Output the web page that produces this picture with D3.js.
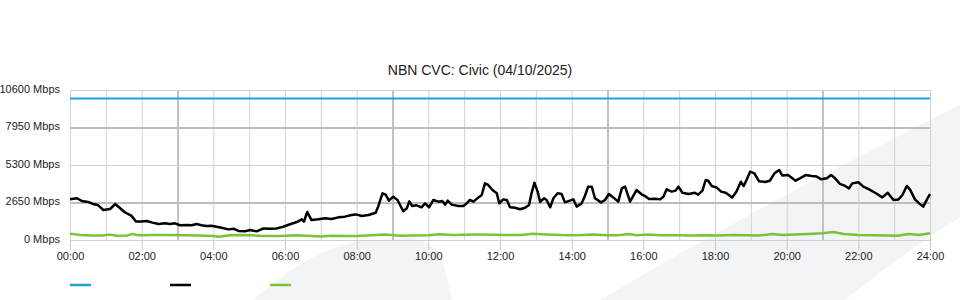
<!DOCTYPE html>
<html>
<head>
<meta charset="utf-8">
<script src="https://cdn.jsdelivr.net/npm/d3@7"></script>
<style>
body { margin: 0; background: #fff; }
text { font-family: "Liberation Sans", Arial, sans-serif; }
</style>
</head>
<body>
<svg id="chart" width="960" height="300"></svg>
<script>
// chart values
const title = "NBN CVC: Civic (04/10/2025)";
const yTicks = [0, 2650, 5300, 7950, 10600];
const xLabelHours = [0, 2, 4, 6, 8, 10, 12, 14, 16, 18, 20, 22, 24];
const gridHours = d3.range(0, 25);

// CVC capacity (flat)
const capacityHours = [0, 24];
const capacityValues = [10000, 10000];

// download traffic
const downHours = [0, 0.19, 0.33, 0.51, 0.65, 0.79, 0.93, 1.12, 1.26, 1.40, 1.53, 1.72, 1.84, 2.00, 2.14, 2.30, 2.47, 2.65, 2.79, 2.93,
	3.07, 3.26, 3.40, 3.53, 3.67, 3.81, 3.95, 4.09, 4.23, 4.42, 4.56, 4.70, 4.88, 5.02, 5.21, 5.40, 5.58, 5.77, 5.95,
	6.14, 6.33, 6.47, 6.53, 6.62, 6.74, 6.93, 7.12, 7.30, 7.49, 7.67, 7.86, 7.98, 8.14, 8.33, 8.53, 8.60, 8.72, 8.81, 8.90,
	9.02, 9.14, 9.30, 9.40, 9.47, 9.55, 9.67, 9.81, 9.91, 10.02, 10.14, 10.28, 10.39, 10.47, 10.54, 10.65, 10.84, 10.98,
	11.07, 11.16, 11.26, 11.40, 11.49, 11.58, 11.67, 11.79, 11.91, 11.98, 12.09, 12.19, 12.28, 12.42, 12.56, 12.70, 12.81,
	12.88, 12.96, 13.05, 13.12, 13.23, 13.30, 13.40, 13.49, 13.61, 13.72, 13.81, 13.95, 14.05, 14.14, 14.28, 14.37, 14.46,
	14.56, 14.65, 14.82, 14.93, 15.04, 15.16, 15.30, 15.40, 15.49, 15.63, 15.81, 15.95, 16.05, 16.16, 16.33, 16.47, 16.56,
	16.65, 16.79, 16.90, 16.98, 17.09, 17.26, 17.44, 17.53, 17.65, 17.74, 17.81, 17.91, 18.05, 18.17, 18.30, 18.48, 18.60,
	18.72, 18.80, 18.88, 18.98, 19.10, 19.23, 19.40, 19.53, 19.66, 19.79, 19.88, 20.04, 20.25, 20.37, 20.53, 20.70, 20.84,
	20.96, 21.12, 21.24, 21.35, 21.49, 21.63, 21.74, 21.83, 22.00, 22.14, 22.30, 22.47, 22.67, 22.82, 22.98, 23.12, 23.23,
	23.35, 23.44, 23.58, 23.72, 23.81, 23.91, 24.00];
const downValues = [2880, 2950, 2760, 2690, 2540, 2450, 2120, 2190, 2540, 2240, 1960, 1700, 1300, 1300, 1340, 1230, 1130, 1180, 1130, 1180,
	1040, 1060, 1040, 1130, 1040, 990, 1010, 940, 870, 750, 800, 640, 610, 710, 610, 820, 800, 820, 940,
	1110, 1270, 1460, 1300, 1980, 1410, 1460, 1530, 1480, 1600, 1650, 1770, 1810, 1700, 1770, 1930, 2360, 3300, 3200, 2780,
	3060, 2830, 2030, 2240, 2730, 2400, 2450, 2310, 2590, 2310, 2830, 2710, 2760, 2500, 2780, 2500, 2400, 2400,
	2590, 2830, 2710, 3010, 3180, 4000, 3890, 3530, 3300, 2590, 2870, 2830, 2310, 2280, 2170, 2280, 2470,
	3300, 4050, 3420, 2690, 2950, 2830, 2310, 2950, 3300, 3250, 2660, 2780, 2870, 2360, 2590, 3110, 3770,
	3770, 2950, 2660, 2830, 3250, 3010, 2710, 3650, 3770, 2710, 3530, 3230, 3100, 2900, 2920, 2870, 3060,
	3580, 3420, 3490, 3770, 3340, 3250, 3340, 3200, 3490, 4240, 4190, 3820, 3700, 3420, 3340, 3010, 3420,
	4120, 3820, 4240, 4830, 4710, 4150, 4100, 4190, 4710, 4950, 4550, 4590, 4190, 4360, 4590, 4520, 4480,
	4290, 4360, 4590, 4360, 3960, 3820, 3650, 4000, 4080, 3770, 3580, 3340, 3010, 3340, 2830, 2870, 3180,
	3820, 3580, 2870, 2540, 2360, 2830, 3250];

// upload traffic
const upHours = [0, 0.3, 0.6, 0.9, 1.1, 1.3, 1.6, 1.75, 1.9, 2.3, 2.8, 3.2, 3.6, 4.0, 4.15, 4.4, 4.7, 5.0, 5.3, 5.7, 6.0, 6.3, 6.6,
	7.0, 7.3, 7.7, 8.0, 8.4, 8.8, 9.2, 9.6, 10.0, 10.3, 10.7, 11.0, 11.4, 11.8, 12.2, 12.6, 12.9, 13.3, 13.7, 14.0, 14.3,
	14.6, 15.0, 15.3, 15.6, 15.8, 16.1, 16.5, 16.9, 17.3, 17.7, 18.1, 18.5, 18.9, 19.2, 19.6, 19.9, 20.2, 20.6, 21.0, 21.3,
	21.6, 22.0, 22.4, 22.8, 23.1, 23.4, 23.7, 24.0];
const upValues = [450, 350, 310, 310, 380, 300, 320, 430, 340, 350, 350, 330, 310, 290, 230, 320, 360, 340, 300, 290, 300, 340, 300,
	240, 300, 290, 290, 330, 390, 300, 320, 340, 400, 360, 370, 380, 370, 360, 360, 440, 390, 350, 340, 350,
	380, 340, 330, 430, 330, 380, 330, 330, 320, 330, 310, 350, 340, 310, 430, 360, 380, 420, 480, 560,
	430, 360, 340, 320, 300, 420, 350, 470];

const colours = {capacity: "#1da1e0", down: "#000000", up: "#7cc13a"};

// set the dimensions and margins of the graph
const margin = {top: 90, right: 30, bottom: 60, left: 70},
	width = 960 - margin.left - margin.right,
	height = 300 - margin.top - margin.bottom;

const root = d3.select("#chart");

// faint background swooshes
root.append("path")
	.attr("d", "M600,300 Q760,205 960,105 L960,217 Q900,255 845,300 Z")
	.attr("fill", "#f3f4f6");
root.append("path")
	.attr("d", "M253,300 C290,268 325,246 360,241 L410,238 Q438,242 444,265 L452,300 Z")
	.attr("fill", "#f3f4f6");

const svg = root.append("g")
	.attr("transform", "translate(" + margin.left + "," + margin.top + ")");

const x = d3.scaleLinear().domain([0, 24]).range([0, width]);
const y = d3.scaleLinear().domain([0, 10600]).range([height, 0]);

// vertical grid, every hour; 03/09/15/21 heavier
const vgrid = svg.append("g")
	.call(d3.axisBottom(x).tickValues(gridHours).tickSize(height).tickFormat(""));
vgrid.select(".domain").remove();
vgrid.selectAll(".tick line")
	.attr("y1", 0).attr("y2", height)
	.attr("stroke", d => d % 6 === 3 ? "#c2c2c2" : "#d2d2d2")
	.attr("stroke-width", d => d % 6 === 3 ? 2 : 1);

// horizontal grid
const hgrid = svg.append("g")
	.call(d3.axisLeft(y).tickValues(yTicks).tickSize(-width).tickFormat(""));
hgrid.select(".domain").remove();
hgrid.selectAll(".tick line")
	.attr("stroke", (d, i) => i % 2 === 1 ? "#bdbdbd" : "#d2d2d2")
	.attr("stroke-width", (d, i) => i % 2 === 1 ? 2 : 1);

// y labels
const yAxis = svg.append("g")
	.call(d3.axisLeft(y).tickValues(yTicks).tickSize(0).tickPadding(10).tickFormat(d => d + " Mbps"));
yAxis.select(".domain").remove();
yAxis.selectAll("text")
	.attr("font-family", "Liberation Sans, Arial, sans-serif")
	.attr("font-size", 11)
	.attr("fill", "#222")
	.attr("dy", "0.2em");

// x labels and ticks
const xAxis = svg.append("g")
	.attr("transform", "translate(0," + height + ")")
	.call(d3.axisBottom(x).tickValues(xLabelHours).tickSize(10).tickPadding(2)
		.tickFormat(d => String(d).padStart(2, "0") + ":00"));
xAxis.select(".domain").attr("stroke", "#d0d0d0");
xAxis.selectAll(".tick line").attr("stroke", "#c8c8c8");
xAxis.selectAll("text")
	.attr("font-family", "Liberation Sans, Arial, sans-serif")
	.attr("font-size", 11)
	.attr("fill", "#222");

const line = d3.line()
	.x(d => x(d[0]))
	.y(d => y(d[1]));

const series = [
	{hours: upHours, values: upValues, colour: colours.up, w: 2.5},
	{hours: downHours, values: downValues, colour: colours.down, w: 2.5},
	{hours: capacityHours, values: capacityValues, colour: colours.capacity, w: 2}
];

series.forEach(function(s) {
	svg.append("path")
		.datum(d3.zip(s.hours, s.values))
		.attr("fill", "none")
		.attr("stroke", s.colour)
		.attr("stroke-width", s.w)
		.attr("stroke-linejoin", "round")
		.attr("d", line);
});

// title
root.append("text")
	.attr("x", 480)
	.attr("y", 75)
	.attr("text-anchor", "middle")
	.attr("font-size", 14)
	.attr("fill", "#222")
	.text(title);

// legend: swatches only
const legendColours = [colours.capacity, colours.down, colours.up];
root.append("g").selectAll("line")
	.data(legendColours)
	.join("line")
	.attr("x1", (d, i) => 70 + i * 100)
	.attr("x2", (d, i) => 91 + i * 100)
	.attr("y1", 285)
	.attr("y2", 285)
	.attr("stroke", d => d)
	.attr("stroke-width", 2.5);
</script>
</body>
</html>
